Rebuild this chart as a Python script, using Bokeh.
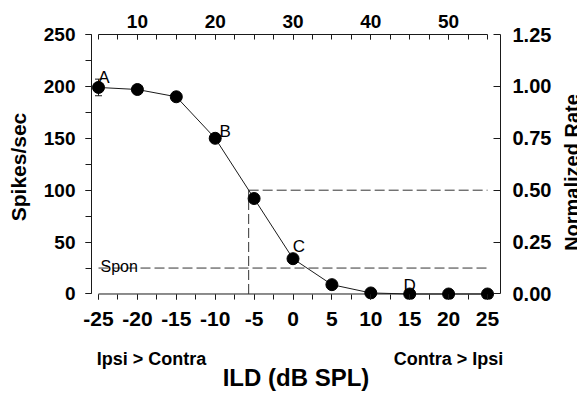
import math
from bokeh.plotting import figure
from bokeh.layouts import row
from bokeh.models import (Range1d, LinearAxis, SingleIntervalTicker, FixedTicker,
                          NumeralTickFormatter, Label, Whisker, TeeHead,
                          ColumnDataSource)
from bokeh.core.properties import value
from bokeh.embed import file_html
from bokeh.resources import INLINE

# ILD tuning curve: firing rate vs interaural level difference
ild = [-25, -20, -15, -10, -5, 0, 5, 10, 15, 20, 25]
rate = [199, 197, 190, 150, 92, 34, 9, 1, 0, 0, 0]
rate_err_ild = [-25]
rate_err = [8]
point_labels = ["A", "B", "C", "D"]
point_label_ild = [-25, -10, 0, 15]
spon_rate = 25
half_rate = 100
half_ild = -5.7
norm_ref = 200          # rate that maps to 1.0 on the normalized axis
top_offset = 30         # top scale = ILD + 30
side_notes = {-18.2: "Ipsi > Contra", 20: "Contra > Ipsi"}

FONT = "Liberation Sans"
INK = "#1a1a1a"

W, H = 577, 394
SIDE_W = 21             # strip on the right that holds the normalized-rate title

# frame geometry (pixels) and data ranges
FL, FR, FT, FB = 91, 500, 34, 299
X0, X1 = -25.9, 26.67
Y0, Y1 = -5.3, 250.0


def sx(px):
    return X0 + (px - FL) / (FR - FL) * (X1 - X0)


def sy(py):
    return Y0 + (FB - py) / (FB - FT) * (Y1 - Y0)


p = figure(width=W - SIDE_W, height=H, output_backend="svg", toolbar_location=None,
           x_range=Range1d(X0, X1), y_range=Range1d(Y0, Y1),
           min_border_left=FL, min_border_right=W - SIDE_W - FR,
           min_border_top=FT, min_border_bottom=H - FB)
p.outline_line_color = None
p.xgrid.visible = False
p.ygrid.visible = False
p.background_fill_color = "white"
p.border_fill_color = "white"


def style_axis(ax, size, tick_in, tick_out, standoff):
    ax.axis_line_color = INK
    ax.axis_line_width = 1
    ax.major_tick_line_color = INK
    ax.minor_tick_line_color = INK
    ax.major_tick_in = tick_in
    ax.major_tick_out = tick_out
    ax.minor_tick_in = tick_in
    ax.minor_tick_out = tick_out
    ax.major_label_standoff = standoff
    ax.major_label_text_font = FONT
    ax.major_label_text_font_style = "bold"
    ax.major_label_text_font_size = f"{size}px"
    ax.major_label_text_color = "black"


def style_title(ax, size, standoff):
    ax.axis_label_text_font = FONT
    ax.axis_label_text_font_style = "bold"
    ax.axis_label_text_font_size = f"{size}px"
    ax.axis_label_text_color = "black"
    ax.axis_label_standoff = standoff


# bottom ILD axis (its baseline is drawn as a separate segment at rate 0)
bx = p.xaxis[0]
bx.ticker = SingleIntervalTicker(interval=5, num_minor_ticks=2)
bx.formatter = NumeralTickFormatter(format="0")
bx.bounds = (ild[0], ild[-1])
style_axis(bx, 21, 5, 0, 12)
bx.axis_line_color = None

# second row under the ILD axis: direction notes and the axis title
nx = LinearAxis(ticker=FixedTicker(ticks=list(side_notes.keys())),
                major_label_overrides=side_notes)
style_axis(nx, 18, 0, 0, 20)
nx.axis_line_color = None
nx.major_tick_line_color = None
nx.minor_tick_line_color = None
nx.axis_label = "ILD (dB SPL)"
style_title(nx, 24, -8)
p.add_layout(nx, "below")

# left rate axis
ly = p.yaxis[0]
ly.ticker = SingleIntervalTicker(interval=50, num_minor_ticks=2)
ly.bounds = (0, 250)
style_axis(ly, 19, 0, 6, 10)
ly.axis_label = "Spikes/sec"
style_title(ly, 21, 11)

# top axis
p.extra_x_ranges = {"top": Range1d(X0 + top_offset, X1 + top_offset)}
tx = LinearAxis(x_range_name="top",
                ticker=SingleIntervalTicker(interval=10, num_minor_ticks=4),
                bounds=(ild[0] + top_offset, ild[-1] + top_offset))
style_axis(tx, 19, 5, 0, 7)
p.add_layout(tx, "above")

# right normalized-rate axis
p.extra_y_ranges = {"norm": Range1d(Y0 / norm_ref, Y1 / norm_ref)}
ry = LinearAxis(y_range_name="norm",
                ticker=SingleIntervalTicker(interval=0.25, num_minor_ticks=0),
                formatter=NumeralTickFormatter(format="0.00"),
                bounds=(0, 250 / norm_ref))
style_axis(ry, 20, 7, 0, 12)
p.add_layout(ry, "right")

# x-axis baseline at zero rate
p.segment(x0=[ild[0]], y0=[0], x1=[ild[-1]], y1=[0], line_color=INK, line_width=1)

# spontaneous rate and half-maximum guides
p.line([ild[0], ild[-1]], [spon_rate, spon_rate], line_color="#333333",
       line_width=1, line_dash="10 4")
p.line([half_ild, ild[-1]], [half_rate, half_rate], line_color="#333333",
       line_width=1, line_dash="10 4")
p.line([half_ild, half_ild], [0, half_rate], line_color="#333333",
       line_width=1, line_dash="10 4")

# error bar on the first point
err_src = ColumnDataSource(dict(x=rate_err_ild,
                                upper=[rate[0] + e for e in rate_err],
                                lower=[rate[0] - e for e in rate_err]))
p.add_layout(Whisker(source=err_src, base="x", upper="upper", lower="lower",
                     line_color=INK, line_width=1,
                     upper_head=TeeHead(size=7, line_color=INK),
                     lower_head=TeeHead(size=7, line_color=INK)))

# curve
p.line(ild, rate, line_color=INK, line_width=1)
p.scatter(ild, rate, size=12, fill_color="black", line_color="black")

# point letters
lab_y = [rate[ild.index(v)] for v in point_label_ild]
p.text(x=point_label_ild, y=lab_y, text=point_labels,
       x_offset=[5.5, 10, 6, 0], y_offset=[-10, -7, -12, -8],
       text_align="center", text_baseline="alphabetic",
       text_font=value(FONT), text_font_size="17px", text_color="black")

p.add_layout(Label(x=sx(100), y=sy(266), text="Spon", text_font=FONT,
                   text_font_size="16px", text_color="black",
                   text_baseline="alphabetic"))

# narrow strip carrying the right-hand title, reading bottom to top;
# its frame lines up vertically with the main frame, so it shares the y mapping
side = figure(width=SIDE_W, height=H, output_backend="svg", toolbar_location=None,
              title=None, x_range=Range1d(0, SIDE_W), y_range=Range1d(Y0, Y1),
              x_axis_location=None, y_axis_location=None,
              min_border=0, min_border_left=0, min_border_right=0,
              min_border_top=0, min_border_bottom=0)
side.outline_line_color = None
side.xgrid.visible = False
side.ygrid.visible = False
side.border_fill_color = "white"
side.background_fill_color = "white"
side.add_layout(Label(x=0, x_offset=15, y=sy(172), text="Normalized Rate",
                      angle=math.pi / 2, text_font=FONT, text_font_style="bold",
                      text_font_size="20px", text_align="center",
                      text_baseline="alphabetic", text_color="black"))

layout = row(p, side, spacing=0)
open("out.html", "w").write(file_html(layout, INLINE))
